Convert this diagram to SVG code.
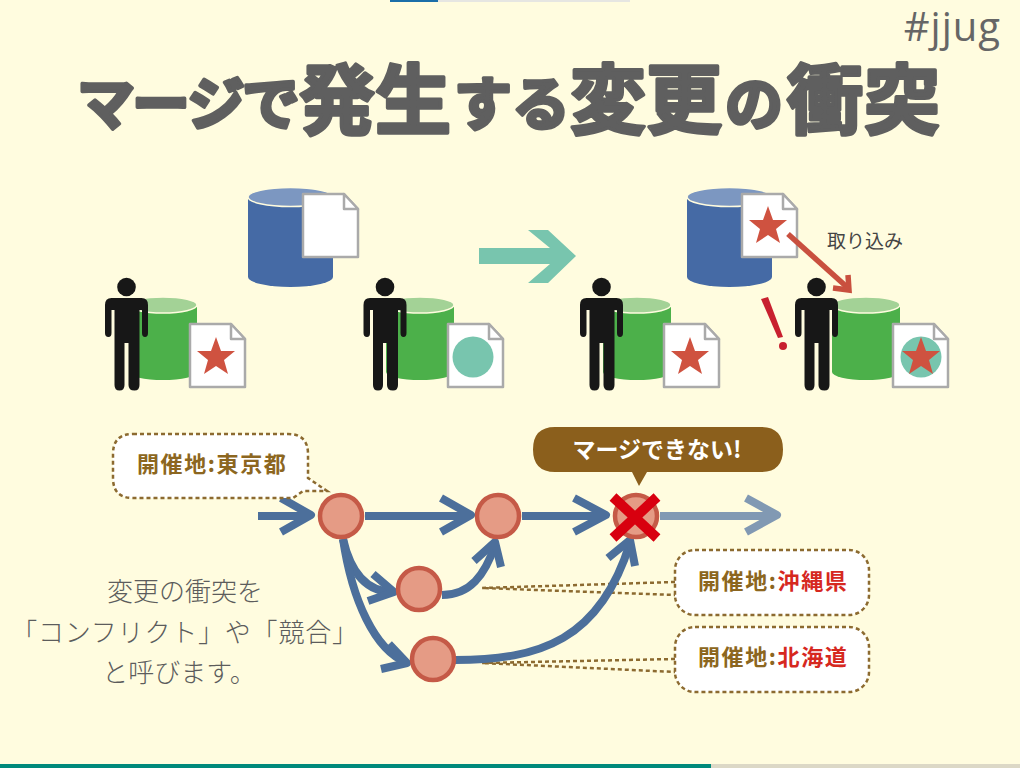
<svg xmlns="http://www.w3.org/2000/svg" width="1020" height="768" viewBox="0 0 1020 768">
<style>
text{font-family:"Noto Sans CJK JP","Noto Sans",sans-serif}
.ttl{font-size:76px;font-weight:700;fill:#5f5f5f;stroke:#5f5f5f;stroke-width:3.500px;stroke-linejoin:round}
.kana{font-size:58px}
.body{font-size:26px;fill:#5c5c5c;font-weight:300;text-anchor:middle}
.lab{font-size:22px;font-weight:700;fill:#8c6620;letter-spacing:1.600px}
.red{fill:#d6281f}
.commit{fill:#e59b85;stroke:#c55a47;stroke-width:4.5}
.edge{fill:none;stroke:#4c6f9b;stroke-width:8;stroke-linejoin:round}
.callout{fill:#fff;stroke:#8c6a30;stroke-width:2.500;stroke-dasharray:4 3}
.lead{fill:none;stroke:#8c6a30;stroke-width:2.500;stroke-dasharray:4 3}
</style>
<defs>
<g id="person" fill="#171717">
<circle cx="0" cy="0" r="9.3"/>
<path d="M-15,11H15Q21.500,11 21.500,18V46Q21.500,50 18.500,50Q15.500,50 15.500,46V23H13V98Q13,103.500 8,103.500Q2,103.500 2,98V56H-2V98Q-2,103.500 -7,103.500Q-12,103.500 -12,98V23H-15V46Q-15,50 -18,50Q-21.500,50 -21.500,46V18Q-21.500,11 -15,11Z"/>
</g>
<g id="greencyl">
<path d="M0,8V75A34,8 0 0 0 68,75V8Z" fill="#4cb04a"/>
<ellipse cx="34" cy="8" rx="34" ry="8" fill="#a3d296" stroke="#fffcdf" stroke-width="1.500"/>
</g>
<g id="bluecyl">
<path d="M0,10V90A42.500,10 0 0 0 85,90V10Z" fill="#456aa5"/>
<ellipse cx="42.500" cy="10" rx="42.500" ry="9.500" fill="#7c97c1" stroke="#fffcdf" stroke-width="1.500"/>
</g>
<g id="doc">
<path d="M0,0H41L55,15V63H0Z" fill="#fff" stroke="#aaa" stroke-width="2.500" stroke-linejoin="round"/>
<path d="M41,0V15H55Z" fill="#fff" stroke="#aaa" stroke-width="2.500" stroke-linejoin="round"/>
</g>
<polygon id="star" points="0,-20 5,-6 19,-6 8,3 12,17 0,9 -12,17 -8,3 -19,-6 -5,-6" fill="#cf5240"/>
</defs>
<rect width="1020" height="768" fill="#fffcdf"/>
<rect x="390" y="0" width="48" height="2" fill="#1b6ea8"/>
<rect x="438" y="0" width="192" height="2" fill="#e6e6e2"/>
<rect x="0" y="764" width="711" height="4" fill="#00897b"/>
<rect x="711" y="764" width="309" height="4" fill="#dcd8c6"/>
<text x="1001" y="41" text-anchor="end" font-size="40" fill="#666" letter-spacing="1" style="font-family:'Open Sans',sans-serif">#jjug</text>
<g id="title">
<text class="ttl" y="128"><tspan class="kana" x="77" y="125">マ</tspan><tspan class="kana" x="132" y="125">ー</tspan><tspan class="kana" x="187" y="125">ジ</tspan><tspan class="kana" x="242" y="125">で</tspan><tspan x="299" y="128">発</tspan><tspan x="375" y="128">生</tspan><tspan class="kana" x="454" y="125">す</tspan><tspan class="kana" x="512" y="125">る</tspan><tspan x="570" y="128">変</tspan><tspan x="646" y="128">更</tspan><tspan class="kana" x="725" y="125">の</tspan><tspan x="787" y="128">衝</tspan><tspan x="864" y="128">突</tspan></text>
</g>
<g id="before">
<g id="repo-blue-1"><use href="#bluecyl" x="248" y="187"/><use href="#doc" x="303" y="194"/></g>
<g id="user-a1"><use href="#greencyl" x="129" y="297"/><use href="#person" x="126.500" y="287"/><use href="#doc" x="190" y="324"/><use href="#star" x="216" y="357"/></g>
<g id="user-b1"><use href="#greencyl" x="386" y="297"/><use href="#person" x="385" y="287"/><use href="#doc" x="448" y="324"/><circle cx="473" cy="357" r="20.500" fill="#78c5ae"/></g>
</g>
<polygon id="big-arrow" points="479,248 550,248 528,230 548,230 576,256 548,283 528,283 550,264 479,264" fill="#78c5ae"/>
<g id="after">
<g id="repo-blue-2"><use href="#bluecyl" x="687" y="187"/><use href="#doc" x="742" y="194"/><use href="#star" x="768" y="226"/></g>
<g id="user-a2"><use href="#greencyl" x="603" y="297"/><use href="#person" x="601.500" y="287"/><use href="#doc" x="664" y="324"/><use href="#star" x="690" y="357"/></g>
<g id="user-b2"><use href="#greencyl" x="832" y="297"/><use href="#person" x="816.500" y="287"/><use href="#doc" x="893" y="324"/><circle cx="921" cy="357" r="20.500" fill="#78c5ae"/><use href="#star" x="921" y="357"/></g>
<g fill="none" stroke="#c9503f" stroke-width="5.500"><path d="M788,234L848,288"/><path d="M848,275L849,290L833,288"/></g>
<text x="827" y="248" font-size="19" fill="#444">取り込み</text>
<g fill="#c8202f"><polygon points="761,299 768,297 783,337 778,338"/><circle cx="783" cy="346" r="4"/></g>
</g>
<g id="connectors">
<path class="lead" d="M675,582L482,588L675,595"/>
<path class="lead" d="M675,659L482,663L675,672"/>
<path class="edge" d="M258,516H310M281,498L311,515L281,532"/>
<path class="edge" d="M365,516H468M441,498L471,515L441,532"/>
<path class="edge" d="M522,516H604M574,498L606,515L574,532"/>
<path class="edge" style="stroke:#8199b3" d="M660,516H775M746,498L777,515L746,532"/>
<path class="edge" d="M343,539C350,570 365,592 393,592"/>
<path class="edge" d="M373,574L394,592L368,601"/>
<path class="edge" d="M343,539C352,600 375,650 406,662"/>
<path class="edge" d="M389,644L407,663L381,669"/>
<path class="edge" d="M442,595C470,595 485,575 495,545"/>
<path class="edge" d="M474,561L495,542L501,567"/>
<path class="edge" d="M455,660C540,660 600,640 630,543"/>
<path class="edge" d="M608,558L630,540L635,566"/>
</g>
<g id="commit-1"><circle class="commit" cx="341" cy="516" r="21"/></g>
<g id="commit-2"><circle class="commit" cx="498" cy="516" r="21"/></g>
<g id="commit-3"><circle class="commit" cx="636" cy="516" r="21"/>
<path d="M613,497L657,538M657,497L613,538" stroke="#d8000f" stroke-width="10" fill="none"/></g>
<g id="commit-4"><circle class="commit" cx="419" cy="589" r="21"/></g>
<g id="commit-5"><circle class="commit" cx="433" cy="659" r="21"/></g>
<g id="callout-tokyo">
<path class="callout" d="M133,434H288Q308,434 308,454V478L327,491H303L293,498H133Q113,498 113,478V454Q113,434 133,434Z"/>
<text class="lab" x="137" y="472">開催地:東京都</text>
</g>
<g id="callout-okinawa">
<rect class="callout" x="675" y="550" width="194" height="65" rx="20"/>
<text class="lab" x="698" y="589">開催地:<tspan class="red">沖縄県</tspan></text>
</g>
<g id="callout-hokkaido">
<rect class="callout" x="675" y="627" width="194" height="65" rx="20"/>
<text class="lab" x="698" y="665">開催地:<tspan class="red">北海道</tspan></text>
</g>
<g id="bubble">
<path d="M555,427H761Q783,427 783,449.500Q783,472 761,472H647L639,486L632,472H555Q533,472 533,449.500Q533,427 555,427Z" fill="#8b5f1c"/>
<text x="657" y="458" font-size="23" font-weight="700" fill="#fff" text-anchor="middle">マージできない!</text>
</g>
<g id="note">
<text class="body" x="185" y="601">変更の衝突を</text>
<text class="body" x="185" y="642" letter-spacing="0.800">「コンフリクト」や「競合」</text>
<text class="body" x="179" y="682">と呼びます。</text>
</g>
</svg>
